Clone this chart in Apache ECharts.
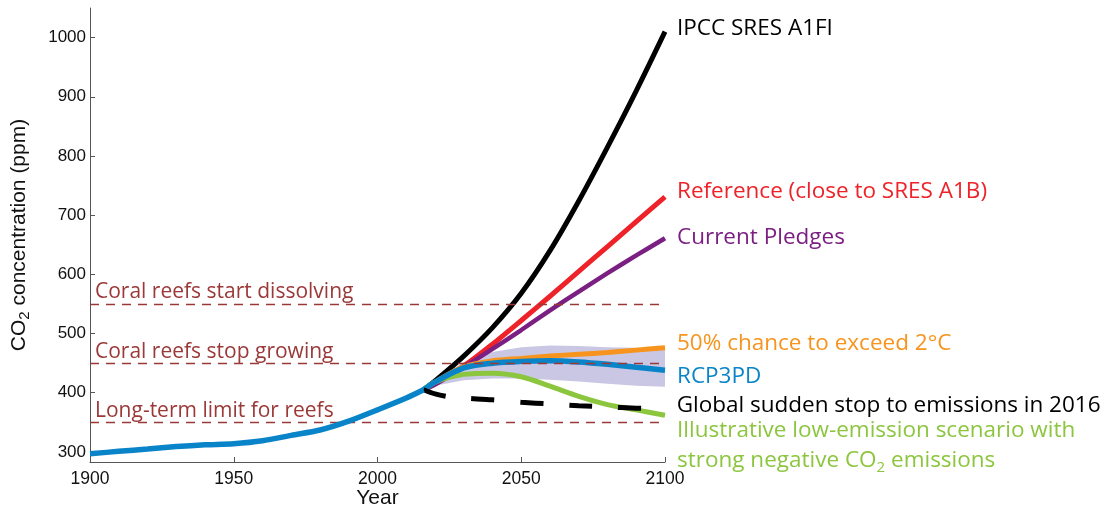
<!DOCTYPE html>
<html>
<head>
<meta charset="utf-8">
<script src="https://cdn.jsdelivr.net/npm/echarts@6/dist/echarts.min.js"></script>
<style>
  html, body { margin: 0; padding: 0; background: #fff; }
  #chart { width: 1107px; height: 511px; }
</style>
</head>
<body>
<div id="chart"></div>
<script>
  // historical record
  var histYears = [1900, 1910, 1920, 1930, 1940, 1950, 1960, 1970, 1980, 1990, 2000, 2010, 2016];
  var histValues = [297, 301, 305, 309, 312, 314, 319, 328, 337, 352, 371, 391, 405];

  // scenarios
  var futYears = [2016, 2020, 2030, 2040, 2050, 2060, 2070, 2080, 2090, 2100];
  var a1fi = [405, 420, 462, 510, 568, 640, 724, 815, 910, 1010];
  var reference = [405, 415, 445, 482, 522, 563, 605, 647, 689, 731];
  var pledges = [405, 414, 443, 474, 506, 539, 571, 602, 632, 661];
  var chance50 = [405, 418, 444, 454, 458, 462, 465, 468, 472, 476];
  var rcp3pd = [405, 418, 442, 450, 453, 454, 452, 448, 443, 438];
  var bandUpper = [405, 420, 452, 469, 477, 480, 479, 477, 476, 475];
  var bandLower = [405, 412, 421, 424, 424, 422, 419, 415, 412, 410];
  var lowEmission = [405, 418, 431, 433, 427, 411, 394, 380, 371, 362];

  var stopYears = [2016, 2020, 2025, 2030, 2040, 2050, 2060, 2070, 2080, 2090, 2095];
  var stopValues = [405, 398, 393, 391, 388, 384, 381, 378, 376, 374, 373];

  // reef thresholds
  var reefLevels = [550, 450, 350];
  var reefNames = ['Coral reefs start dissolving', 'Coral reefs stop growing', 'Long-term limit for reefs'];

  var yTicks = [300, 400, 500, 600, 700, 800, 900, 1000];

  function pairs(xs, ys) {
    return xs.map(function (x, i) { return [x, ys[i]]; });
  }

  var labelFont = '"Open Sans", sans-serif';
  var axisFont = '"Liberation Sans", Arial, sans-serif';

  function scenario(name, data, color, width, label, dy) {
    return {
      name: name,
      type: 'line',
      data: data,
      smooth: 0.3,
      showSymbol: false,
      lineStyle: { color: color, width: width },
      z: 3,
      endLabel: {
        show: true,
        formatter: label,
        color: color,
        fontFamily: labelFont,
        fontSize: 22.5,
        lineHeight: 30,
        distance: 12,
        offset: [0, dy],
        rich: {
          s: { fontFamily: labelFont, fontSize: 15, color: color, verticalAlign: 'bottom', padding: [10, 0, 0, 0] }
        }
      }
    };
  }

  var chart = echarts.init(document.getElementById('chart'));

  chart.setOption({
    animation: false,
    grid: { left: 90, right: 442, top: 8, bottom: 49, outerBoundsMode: 'none', containLabel: false },
    xAxis: {
      type: 'value',
      min: 1900,
      max: 2100,
      interval: 50,
      name: 'Year',
      nameLocation: 'middle',
      nameGap: 26,
      nameMoveOverlap: false,
      nameTextStyle: { fontFamily: axisFont, fontSize: 21, color: '#111' },
      splitLine: { show: false },
      axisLine: { lineStyle: { color: '#555', width: 1 } },
      axisTick: { inside: true, length: 5, lineStyle: { color: '#555' } },
      axisLabel: {
        fontFamily: axisFont, fontSize: 17.5, color: '#111', margin: 8,
        formatter: function (v) { return String(v); }
      }
    },
    yAxis: {
      type: 'value',
      min: 283,
      max: 1050,
      name: '{n|CO}{s|2}{n| concentration (ppm)}',
      nameLocation: 'middle',
      nameRotate: 90,
      nameGap: 58,
      nameMoveOverlap: false,
      nameTextStyle: {
        rich: {
          n: { fontFamily: axisFont, fontSize: 21, color: '#111' },
          s: { fontFamily: axisFont, fontSize: 15, color: '#111', verticalAlign: 'bottom', padding: [10, 0, 0, 0] }
        }
      },
      splitLine: { show: false },
      axisLine: { show: true, lineStyle: { color: '#555', width: 1 } },
      axisTick: { show: true, inside: true, length: 5, customValues: yTicks, lineStyle: { color: '#555' } },
      axisLabel: {
        fontFamily: axisFont, fontSize: 17, color: '#111', margin: 4, customValues: yTicks,
        formatter: function (v) { return String(v); }
      }
    },
    series: [
      {
        name: 'reefs',
        type: 'line',
        data: [],
        z: 1,
        markLine: {
          silent: true,
          symbol: 'none',
          lineStyle: { color: '#9b3838', type: [9, 7], width: 1.3 },
          label: {
            position: 'insideStartTop',
            distance: [5, 1],
            color: '#9b3838',
            fontFamily: labelFont,
            fontSize: 21
          },
          data: reefLevels.map(function (v, i) {
            return { yAxis: v, label: { formatter: reefNames[i] } };
          })
        }
      },
      {
        // uncertainty band round RCP3PD
        name: 'band',
        type: 'custom',
        data: [[2016, 405]],
        z: 2,
        renderItem: function (params, api) {
          var pts = [];
          futYears.forEach(function (yr, i) { pts.push(api.coord([yr, bandUpper[i]])); });
          for (var i = futYears.length - 1; i >= 0; i--) {
            pts.push(api.coord([futYears[i], bandLower[i]]));
          }
          return {
            type: 'polygon',
            shape: { points: pts },
            style: { fill: '#c9c7e4' }
          };
        }
      },
      scenario('A1FI', pairs(futYears, a1fi), '#000000', 5, 'IPCC SRES A1FI', -3),
      scenario('Reference', pairs(futYears, reference), '#ee2229', 5, 'Reference (close to SRES A1B)', -5),
      scenario('Pledges', pairs(futYears, pledges), '#7b1f83', 4.5, 'Current Pledges', -1),
      scenario('50%', pairs(futYears, chance50), '#f7941d', 5, '50% chance to exceed 2°C', -4),
      scenario('Low', pairs(futYears, lowEmission), '#8cc63f', 5,
        'Illustrative low-emission scenario with\nstrong negative CO{s|2} emissions', 30),
      scenario('RCP3PD', pairs(futYears, rcp3pd), '#0a84c8', 5.5, 'RCP3PD', 6),
      {
        name: 'Stop',
        type: 'line',
        data: pairs(stopYears, stopValues),
        smooth: 0.3,
        showSymbol: false,
        lineStyle: { color: '#000', width: 5, type: [23, 26] },
        z: 4,
        endLabel: {
          show: true,
          formatter: 'Global sudden stop to emissions in 2016',
          color: '#000',
          fontFamily: labelFont,
          fontSize: 22.5,
          distance: 26,
          offset: [0, -3]
        }
      },
      {
        name: 'Historical',
        type: 'line',
        data: pairs(histYears, histValues),
        smooth: 0.3,
        showSymbol: false,
        lineStyle: { color: '#0a84c8', width: 5.5 },
        z: 5
      }
    ]
  });
</script>
</body>
</html>
